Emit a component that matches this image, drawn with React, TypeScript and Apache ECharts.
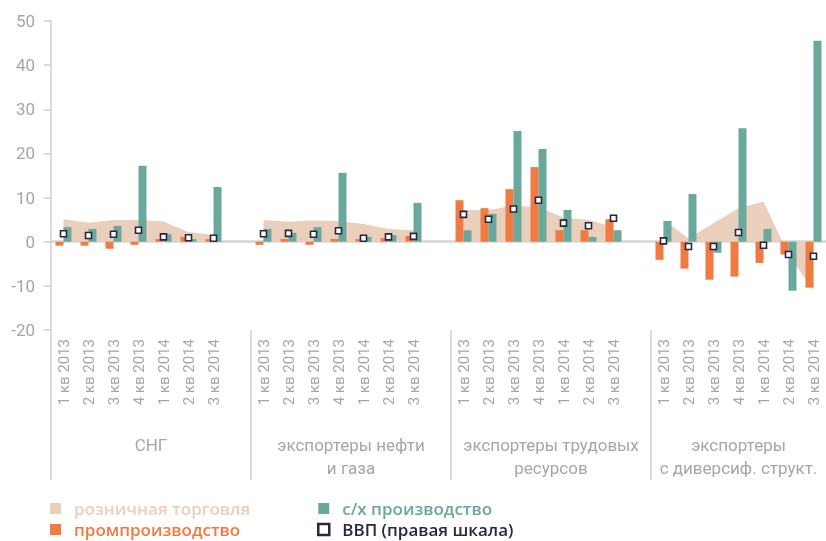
import React, { useEffect, useRef } from "react";
import * as echarts from "echarts";

// Quarter labels (same in each country group)
const quarters = ["1 кв 2013", "2 кв 2013", "3 кв 2013", "4 кв 2013", "1 кв 2014", "2 кв 2014", "3 кв 2014"];
// Country groups
const groups = ["СНГ", "экспортеры нефти\nи газа", "экспортеры трудовых\nресурсов", "экспортеры\nс диверсиф. структ."];
// Number of categories per group including an empty spacer slot (last group has none)
const groupSlots = [8, 8, 8, 7];

// Series values, one list per group (percent)
const retail = [
  [5.1, 4.3, 4.9, 4.9, 4.6, 2.2, 1.5],
  [4.9, 4.5, 4.8, 4.7, 4.0, 2.9, 2.6],
  [7.2, 7.2, 8.2, 7.8, 5.5, 4.9, 3.4],
  [5.0, 0.8, 4.2, 7.6, 9.1, -3.0, -11.0],
];
const industry = [
  [-0.9, -0.9, -1.6, -0.7, 0.6, 1.1, 0.6],
  [-0.7, 0.6, -0.7, 0.6, 0.6, 0.8, 1.3],
  [9.4, 7.6, 11.9, 16.9, 2.6, 2.6, 5.1],
  [-4.1, -6.1, -8.6, -7.9, -4.8, -2.9, -10.4],
];
const agriculture = [
  [3.3, 2.9, 3.6, 17.2, 1.7, 0.6, 12.4],
  [2.9, 2.0, 3.3, 15.6, 1.1, 1.5, 8.8],
  [2.6, 6.3, 25.1, 21.0, 7.2, 1.1, 2.6],
  [4.7, 10.8, -2.5, 25.7, 2.9, -11.1, 45.5],
];
const gdp = [
  [1.8, 1.4, 1.7, 2.6, 1.1, 0.9, 0.8],
  [1.8, 1.9, 1.7, 2.5, 0.8, 1.1, 1.2],
  [6.2, 5.1, 7.4, 9.4, 4.2, 3.6, 5.3],
  [0.2, -1.1, -1.1, 2.1, -0.8, -2.9, -3.3],
];

const C_RETAIL = "#e9cfbc";
const C_IND = "#f07a40";
const C_AGR = "#6aa89c";
const C_GDP = "#2b2540";
const C_AXIS = "#cfcfcf";
const C_LABEL = "#a6a6a6";

function flatten(arr: number[][]): (number | null)[] {
  const out: (number | null)[] = [];
  arr.forEach((g, gi) => {
    const slots = groupSlots[gi];
    for (let i = 0; i < slots; i++) out.push(i < g.length ? g[i] : null);
  });
  return out;
}

const categories: string[] = [];
groupSlots.forEach((n) => {
  for (let i = 0; i < n; i++) categories.push(i < quarters.length ? quarters[i] : "");
});
const total = groupSlots.reduce((a, b) => a + b, 0);
const groupStarts: number[] = [];
const groupCenters: number[] = [];
{
  let s = 0;
  groupSlots.forEach((n) => {
    groupStarts.push(s);
    groupCenters.push(s + n / 2);
    s += n;
  });
}

export default function App() {
  const ref = useRef<HTMLDivElement>(null);
  useEffect(() => {
    if (!ref.current) return;
    const chart = echarts.init(ref.current, undefined, { renderer: "svg" });
    const legendText = { fontSize: 17, fontWeight: 600, fontFamily: "Open Sans", lineHeight: 21, padding: [0, 0, 0, 8] };
    const legendBase = {
      top: 498,
      orient: "vertical",
      padding: 0,
      itemWidth: 11,
      itemHeight: 11,
      itemGap: 0,
      icon: "rect",
      textStyle: legendText,
    };
    chart.setOption({
      animation: false,
      grid: { left: 51, right: 0, top: 21, bottom: 211, containLabel: false },
      legend: [
        {
          ...legendBase,
          left: 50,
          data: [
            { name: "розничная торговля", itemStyle: { color: C_RETAIL, borderWidth: 0 }, textStyle: { color: C_RETAIL } },
            { name: "промпроизводство", itemStyle: { color: C_IND, borderWidth: 0 }, textStyle: { color: C_IND } },
          ],
        },
        {
          ...legendBase,
          left: 317,
          data: [
            { name: "с/х производство", itemStyle: { color: C_AGR, borderWidth: 0 }, textStyle: { color: C_AGR } },
            { name: "ВВП (правая шкала)", itemStyle: { color: "#fff", borderColor: C_GDP, borderWidth: 2.5 }, textStyle: { color: C_GDP } },
          ],
        },
      ],
      xAxis: [
        {
          type: "category",
          data: categories,
          axisLine: { onZero: true, lineStyle: { color: "#d6d6d6", width: 2.5 } },
          axisTick: { interval: 0, length: 6, lineStyle: { color: C_AXIS, width: 1.5 } },
          axisLabel: { show: false },
          splitLine: { show: false },
        },
        {
          type: "category",
          data: categories,
          position: "bottom",
          axisLine: { show: false, onZero: false },
          axisTick: { interval: 0, length: 90, lineStyle: { color: C_AXIS, width: 1.5 } },
          axisLabel: { interval: 0, rotate: 90, margin: 9, color: C_LABEL, fontSize: 15, fontFamily: "Roboto" },
          splitLine: { show: false },
        },
        {
          type: "value",
          min: 0,
          max: total,
          position: "bottom",
          axisLine: { show: false, onZero: false },
          splitLine: { show: false },
          axisTick: { show: true, customValues: groupStarts, length: 150, lineStyle: { color: C_AXIS, width: 1.5 } },
          axisLabel: {
            customValues: groupCenters,
            formatter: (v: number) => {
              const i = groupCenters.indexOf(v);
              return i >= 0 ? groups[i] : "";
            },
            margin: 103,
            color: C_LABEL,
            fontSize: 17,
            lineHeight: 23,
            fontFamily: "Roboto",
            align: "center",
          },
        },
      ],
      yAxis: [
        {
          type: "value",
          min: -20,
          max: 50,
          interval: 10,
          axisLine: { show: true, onZero: false, lineStyle: { color: C_AXIS, width: 1.5 } },
          axisTick: { show: true, length: 7, lineStyle: { color: C_AXIS, width: 1.5 } },
          splitLine: { show: false },
          axisLabel: { color: C_LABEL, fontSize: 17, margin: 16, fontFamily: "Roboto" },
        },
        { type: "value", min: -20, max: 50, show: false, splitLine: { show: false } },
      ],
      series: [
        {
          name: "розничная торговля",
          type: "line",
          data: flatten(retail),
          xAxisIndex: 0,
          yAxisIndex: 0,
          showSymbol: false,
          symbol: "none",
          connectNulls: false,
          lineStyle: { width: 0, color: C_RETAIL },
          itemStyle: { color: C_RETAIL },
          areaStyle: { color: C_RETAIL, opacity: 1 },
          z: 1,
        },
        {
          name: "промпроизводство",
          type: "bar",
          data: flatten(industry),
          barWidth: 8,
          barGap: "0%",
          itemStyle: { color: C_IND },
          z: 2,
        },
        {
          name: "с/х производство",
          type: "bar",
          data: flatten(agriculture),
          barWidth: 8,
          barGap: "0%",
          itemStyle: { color: C_AGR },
          z: 2,
        },
        {
          name: "ВВП (правая шкала)",
          type: "scatter",
          data: flatten(gdp),
          yAxisIndex: 1,
          symbol: "rect",
          symbolSize: 6,
          itemStyle: { color: "#ffffff", borderColor: C_GDP, borderWidth: 1.6, opacity: 1 },
          z: 4,
        },
      ],
    });
    return () => chart.dispose();
  }, []);
  return <div ref={ref} style={{ position: "fixed", left: 0, top: 0, width: 826, height: 541 }} />;
}
